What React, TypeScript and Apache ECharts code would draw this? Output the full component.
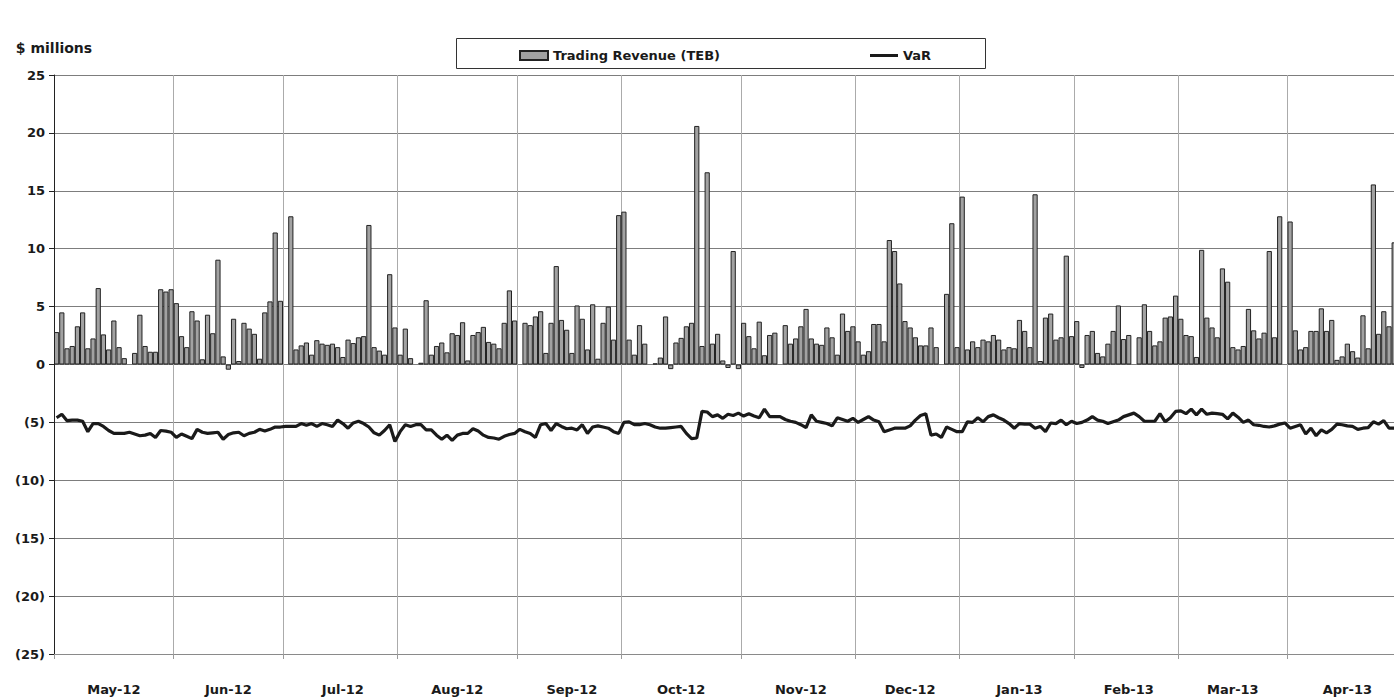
import React, { useEffect, useRef } from 'react';
import * as echarts from 'echarts';

// Month tick labels
const monthLabels = ['May-12', 'Jun-12', 'Jul-12', 'Aug-12', 'Sep-12', 'Oct-12', 'Nov-12', 'Dec-12', 'Jan-13', 'Feb-13', 'Mar-13', 'Apr-13'];

// Business days shown on the axis, per month
const mayDays = [1, 2, 3, 4, 7, 8, 9, 10, 11, 14, 15, 16, 17, 18, 21, 22, 23, 24, 25, 28, 29, 30, 31];
const junDays = [1, 4, 5, 6, 7, 8, 11, 12, 13, 14, 15, 18, 19, 20, 21, 22, 25, 26, 27, 28, 29];
const julDays = [2, 3, 4, 5, 6, 9, 10, 11, 12, 13, 16, 17, 18, 19, 20, 23, 24, 25, 26, 27, 30, 31];
const augDays = [1, 2, 3, 6, 7, 8, 9, 10, 13, 14, 15, 16, 17, 20, 21, 22, 23, 24, 27, 28, 29, 30, 31];
const sepDays = [3, 4, 5, 6, 7, 10, 11, 12, 13, 14, 17, 18, 19, 20, 21, 24, 25, 26, 27, 28];
const octDays = [1, 2, 3, 4, 5, 8, 9, 10, 11, 12, 15, 16, 17, 18, 19, 22, 23, 24, 25, 26, 29, 30, 31];
const novDays = [1, 2, 5, 6, 7, 8, 9, 12, 13, 14, 15, 16, 19, 20, 21, 22, 23, 26, 27, 28, 29, 30];
const decDays = [3, 4, 5, 6, 7, 10, 11, 12, 13, 14, 17, 18, 19, 20, 21, 24, 26, 27, 28, 31];
const janDays = [2, 3, 4, 7, 8, 9, 10, 11, 14, 15, 16, 17, 18, 21, 22, 23, 24, 25, 28, 29, 30, 31];
const febDays = [1, 4, 5, 6, 7, 8, 11, 12, 13, 14, 15, 18, 19, 20, 21, 22, 25, 26, 27, 28];
const marDays = [1, 4, 5, 6, 7, 8, 11, 12, 13, 14, 15, 18, 19, 20, 21, 22, 25, 26, 27, 28, 29];
const aprDays = [1, 2, 3, 4, 5, 8, 9, 10, 11, 12, 15, 16, 17, 18, 19, 22, 23, 24, 25, 26, 29, 30];

// Daily trading revenue (TEB), $ millions (null = market holiday)
const mayRevenue = [2.8, 4.5, 1.4, 1.6, 3.3, 4.5, 1.4, 2.25, 6.6, 2.6, 1.3, 3.8, 1.5, 0.55, null, 1.0, 4.3, 1.6, 1.1, 1.1, 6.5, 6.3, 6.5];
const junRevenue = [5.3, 2.45, 1.5, 4.6, 3.8, 0.45, 4.3, 2.7, 9.05, 0.7, -0.45, 3.95, 0.3, 3.6, 3.1, 2.65, 0.5, 4.5, 5.45, 11.4, 5.5];
const julRevenue = [null, 12.8, 1.3, 1.65, 1.9, 0.85, 2.1, 1.8, 1.7, 1.8, 1.5, 0.65, 2.15, 1.85, 2.35, 2.45, 12.05, 1.5, 1.2, 0.85, 7.8, 3.2];
const augRevenue = [0.85, 3.1, 0.55, null, 0.15, 5.55, 0.85, 1.6, 1.9, 1.05, 2.7, 2.55, 3.65, 0.35, 2.55, 2.8, 3.25, 1.95, 1.8, 1.4, 3.6, 6.4, 3.8];
const sepRevenue = [null, 3.6, 3.4, 4.15, 4.6, 1.0, 3.6, 8.5, 3.85, 3.0, 1.0, 5.1, 3.95, 1.3, 5.2, 0.5, 3.6, 5.0, 2.15, 12.9];
const octRevenue = [13.2, 2.15, 0.85, 3.4, 1.8, null, 0.1, 0.6, 4.15, -0.4, 1.9, 2.3, 3.3, 3.6, 20.6, 1.6, 16.6, 1.8, 2.65, 0.35, -0.3, 9.8, -0.4];
const novRevenue = [3.6, 2.45, 1.4, 3.7, 0.8, 2.55, 2.75, null, 3.4, 1.8, 2.25, 3.3, 4.8, 2.25, 1.8, 1.7, 3.2, 2.35, 0.85, 4.4, 2.9, 3.3];
const decRevenue = [2.0, 0.85, 1.15, 3.5, 3.5, 2.0, 10.75, 9.8, 7.0, 3.75, 3.2, 2.35, 1.65, 1.65, 3.2, 1.5, null, 6.1, 12.2, 1.5];
const janRevenue = [14.5, 1.3, 2.0, 1.5, 2.15, 2.0, 2.55, 2.15, 1.3, 1.5, 1.4, 3.85, 2.9, 1.5, 14.7, 0.3, 4.05, 4.4, 2.15, 2.35, 9.4, 2.45];
const febRevenue = [3.75, -0.3, 2.55, 2.9, 1.0, 0.7, 1.8, 2.9, 5.1, 2.2, 2.55, null, 2.35, 5.2, 2.9, 1.65, 2.0, 4.05, 4.15, 5.95];
const marRevenue = [3.95, 2.55, 2.45, 0.65, 9.9, 4.05, 3.2, 2.35, 8.3, 7.15, 1.5, 1.3, 1.6, 4.8, 2.95, 2.25, 2.75, 9.8, 2.35, 12.8, null];
const aprRevenue = [12.35, 2.95, 1.3, 1.5, 2.9, 2.9, 4.85, 2.9, 3.85, 0.4, 0.7, 1.8, 1.15, 0.6, 4.25, 1.4, 15.55, 2.65, 4.6, 3.3, 10.55, null];

// Daily VaR, $ millions
const mayVar = [-4.6, -4.3, -4.85, -4.8, -4.8, -4.9, -5.8, -5.1, -5.1, -5.35, -5.7, -5.95, -5.95, -5.95, -5.85, -6.0, -6.15, -6.1, -5.95, -6.3, -5.7, -5.75, -5.85];
const junVar = [-6.3, -6.0, -6.2, -6.4, -5.6, -5.85, -5.95, -5.9, -5.85, -6.45, -6.05, -5.9, -5.85, -6.15, -5.95, -5.85, -5.6, -5.75, -5.6, -5.4, -5.4];
const julVar = [-5.35, -5.35, -5.35, -5.1, -5.25, -5.1, -5.35, -5.1, -5.2, -5.35, -4.8, -5.1, -5.5, -5.05, -4.9, -5.1, -5.4, -5.9, -6.1, -5.7, -5.2, -6.65];
const augVar = [-5.8, -5.2, -5.35, -5.2, -5.2, -5.65, -5.65, -6.1, -6.45, -6.1, -6.55, -6.1, -5.95, -5.95, -5.55, -5.75, -6.1, -6.3, -6.35, -6.45, -6.2, -6.05, -5.95];
const sepVar = [-5.6, -5.8, -5.95, -6.3, -5.2, -5.1, -5.7, -5.1, -5.35, -5.55, -5.5, -5.65, -5.2, -5.95, -5.4, -5.3, -5.4, -5.5, -5.8, -5.95];
const octVar = [-5.0, -4.95, -5.2, -5.2, -5.1, -5.2, -5.4, -5.5, -5.5, -5.45, -5.4, -5.35, -5.95, -6.4, -6.35, -4.05, -4.1, -4.5, -4.35, -4.65, -4.3, -4.4, -4.2];
const novVar = [-4.45, -4.25, -4.45, -4.6, -3.85, -4.5, -4.5, -4.5, -4.75, -4.9, -5.0, -5.2, -5.45, -4.35, -4.9, -5.0, -5.1, -5.3, -4.6, -4.75, -4.9, -4.65];
const decVar = [-5.0, -4.75, -4.5, -4.8, -4.95, -5.8, -5.65, -5.5, -5.5, -5.5, -5.3, -4.8, -4.4, -4.25, -6.1, -6.0, -6.3, -5.4, -5.6, -5.8];
const janVar = [-5.8, -4.95, -5.0, -4.6, -4.95, -4.5, -4.35, -4.6, -4.8, -5.1, -5.5, -5.1, -5.15, -5.15, -5.5, -5.35, -5.8, -5.05, -5.1, -4.8, -5.2, -4.9];
const febVar = [-5.1, -5.0, -4.8, -4.5, -4.8, -4.9, -5.1, -4.95, -4.8, -4.5, -4.35, -4.2, -4.5, -4.9, -4.9, -4.9, -4.25, -4.95, -4.6, -4.05];
const marVar = [-4.0, -4.25, -3.85, -4.35, -3.85, -4.3, -4.2, -4.25, -4.3, -4.7, -4.2, -4.55, -5.0, -4.8, -5.2, -5.25, -5.35, -5.4, -5.3, -5.15, -5.05];
const aprVar = [-5.5, -5.35, -5.2, -6.0, -5.5, -6.15, -5.65, -5.9, -5.6, -5.15, -5.2, -5.3, -5.35, -5.6, -5.5, -5.45, -4.95, -5.15, -4.85, -5.5, -5.5, null];

const yTicks = [-25, -20, -15, -10, -5, 0, 5, 10, 15, 20, 25];

const monthDays = [mayDays, junDays, julDays, augDays, sepDays, octDays, novDays, decDays, janDays, febDays, marDays, aprDays];
const monthRevenue = [mayRevenue, junRevenue, julRevenue, augRevenue, sepRevenue, octRevenue, novRevenue, decRevenue, janRevenue, febRevenue, marRevenue, aprRevenue];
const monthVar = [mayVar, junVar, julVar, augVar, sepVar, octVar, novVar, decVar, janVar, febVar, marVar, aprVar];

const categories: string[] = [];
const revenue: (number | null)[] = [];
const varValues: (number | null)[] = [];
const monthStart: Record<number, boolean> = {};
const monthMid: Record<number, string> = {};
monthDays.forEach((days, m) => {
  const start = categories.length;
  monthStart[start] = true;
  monthMid[start + Math.floor(days.length / 2)] = monthLabels[m];
  days.forEach((d, i) => {
    categories.push(`${d}-${monthLabels[m]}`);
    revenue.push(monthRevenue[m][i]);
    varValues.push(monthVar[m][i]);
  });
});

const FONT = '"DejaVu Sans", "Open Sans", sans-serif';
const TEXT = '#1a1a1a';

export default function App() {
  const ref = useRef<HTMLDivElement>(null);
  useEffect(() => {
    document.documentElement.style.overflow = 'hidden';
    document.body.style.overflow = 'hidden';
    document.body.style.margin = '0';
    if (!ref.current) return;
    const chart = echarts.init(ref.current, undefined, { renderer: 'svg' });
    const isStart = (i: number) => !!monthStart[i];
    const isMid = (i: number) => monthMid[i] !== undefined;
    chart.setOption({
      animation: false,
      backgroundColor: '#ffffff',
      textStyle: { fontFamily: FONT },
      // the plot area runs slightly past the right edge of the picture, as in the reference
      grid: { left: 54, right: 6, top: 75, bottom: 44, containLabel: false },
      graphic: [
        {
          type: 'rect',
          left: 456,
          top: 38,
          z: 0,
          shape: { width: 529, height: 30 },
          style: { fill: '#ffffff', stroke: '#333333', lineWidth: 1 },
        },
      ],
      legend: {
        left: 519,
        top: 49,
        padding: 0,
        z: 10,
        itemWidth: 28,
        itemHeight: 9,
        itemGap: 150,
        textStyle: { fontFamily: FONT, fontWeight: 'bold', fontSize: 13, color: TEXT },
        data: [
          { name: 'Trading Revenue (TEB)', icon: 'rect' },
          { name: 'VaR', icon: 'path://M0,0H28V3H0Z' },
        ],
      },
      xAxis: {
        type: 'category',
        data: categories,
        boundaryGap: true,
        axisLine: { onZero: false, lineStyle: { color: '#8a8a8a', width: 1 } },
        axisTick: { show: true, interval: (i: number) => isStart(i), length: 5, lineStyle: { color: '#9a9a9a' } },
        splitLine: { show: true, interval: (i: number) => isStart(i), lineStyle: { color: '#ababab', width: 1 } },
        axisLabel: {
          interval: (i: number) => isMid(i),
          formatter: (_v: string, i: number) => monthMid[i] || '',
          margin: 29,
          fontFamily: FONT,
          fontWeight: 'bold',
          fontSize: 13,
          color: TEXT,
        },
      },
      yAxis: {
        type: 'value',
        min: yTicks[0],
        max: yTicks[yTicks.length - 1],
        interval: 5,
        name: '$ millions',
        nameLocation: 'end',
        nameGap: 20,
        nameTextStyle: { fontFamily: FONT, fontWeight: 'bold', fontSize: 14, color: TEXT, align: 'center' },
        axisLine: { show: true, lineStyle: { color: '#222222', width: 1 } },
        axisTick: { show: true, length: 5, lineStyle: { color: '#222222' } },
        splitLine: { show: true, lineStyle: { color: '#7d7d7d', width: 1 } },
        axisLabel: {
          formatter: (v: number) => (v < 0 ? `(${-v})` : `${v}`),
          margin: 9,
          fontFamily: FONT,
          fontWeight: 'bold',
          fontSize: 13,
          color: TEXT,
        },
      },
      series: [
        {
          name: 'Trading Revenue (TEB)',
          type: 'bar',
          data: revenue,
          barCategoryGap: '0%',
          itemStyle: { color: '#a2a2a2', borderColor: '#222222', borderWidth: 1 },
        },
        {
          name: 'VaR',
          type: 'line',
          data: varValues,
          symbol: 'none',
          connectNulls: true,
          lineStyle: { color: '#1a1a1a', width: 3.2 },
          itemStyle: { color: '#1a1a1a' },
          z: 3,
        },
      ],
    });
    return () => chart.dispose();
  }, []);
  return <div ref={ref} style={{ position: 'fixed', left: 0, top: 0, width: 1408, height: 698 }} />;
}
